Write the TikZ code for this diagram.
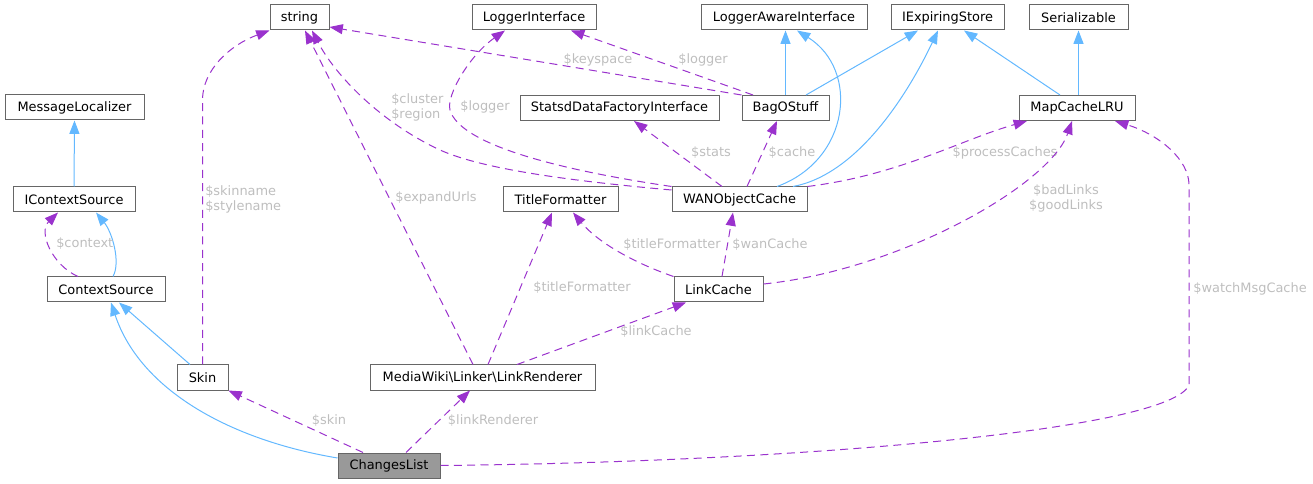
\documentclass[tikz,border=0pt]{standalone}
\usepackage{fontspec}
\setmainfont{DejaVu Sans}
\usetikzlibrary{arrows.meta,positioning}
\definecolor{edgepurple}{HTML}{9A32CD}
\definecolor{edgeblue}{HTML}{63B8FF}
\definecolor{boxgray}{HTML}{666666}
\definecolor{fillgray}{HTML}{999999}
\definecolor{labelgray}{HTML}{BEBEBE}

\begin{document}
\begin{tikzpicture}[
      x=0.75pt, y=-0.75pt,
      font=\fontsize{9.7}{11.25}\selectfont,
      cls/.style={
         rectangle,
         draw=boxgray,
         line width=0.75pt,
         fill=white,
         minimum height=18.75pt,
         inner xsep=2pt, inner ysep=0pt
      },
      current/.style={cls, fill=fillgray},
      inherit/.style={-{Triangle[length=10pt,width=7.5pt]}, draw=edgeblue, line width=0.75pt},
      uses/.style={-{Triangle[length=10pt,width=7.5pt]}, draw=edgepurple, line width=0.75pt,
         dash pattern=on 6pt off 4pt},
      lbl/.style={text=labelgray, inner sep=0pt, align=center}
    ]
    \useasboundingbox (0,0) rectangle (1313,484);

    % classes
    \node[cls, minimum width=44.25pt]  (strg)     at (299.5,17.5) {string};
    \node[cls, minimum width=93pt]     (loggeri)  at (534,17.5)   {LoggerInterface};
    \node[cls, minimum width=124.5pt]  (awarei)   at (784,17.5)   {LoggerAwareInterface};
    \node[cls, minimum width=84.75pt]  (expiring) at (947.5,17.5) {IExpiringStore};
    \node[cls, minimum width=74.25pt]  (serial)   at (1078.5,17.5){Serializable};
    \node[cls, minimum width=104.25pt] (msgloc)   at (74.5,107.5) {MessageLocalizer};
    \node[cls, minimum width=149.25pt] (statsd)   at (619.5,108)  {StatsdDataFactoryInterface};
    \node[cls, minimum width=65.25pt]  (bag)      at (785.5,108)  {BagOStuff};
    \node[cls, minimum width=87pt]     (mapcache) at (1077,108)   {MapCacheLRU};
    \node[cls, minimum width=91.5pt]   (icontext) at (74,199.5)   {IContextSource};
    \node[cls, minimum width=86.25pt]  (titlefmt) at (560.5,199.5){TitleFormatter};
    \node[cls, minimum width=101.25pt] (wan)      at (739.5,199.5){WANObjectCache};
    \node[cls, minimum width=88.5pt]   (context)  at (106,289.5)  {ContextSource};
    \node[cls, minimum width=66.75pt]  (linkcache) at (718.5,289.5){LinkCache};
    \node[cls, minimum width=38.25pt]  (skin)     at (202.5,377.5){Skin};
    \node[cls, minimum width=168.75pt] (linkrend) at (482.5,377.5){MediaWiki\textbackslash Linker\textbackslash LinkRenderer};
    \node[current, minimum width=76.5pt] (changes) at (389,465.5) {ChangesList};

    % inheritance
    \draw[inherit] (icontext.north) -- (msgloc.south);
    \draw[inherit] (context.north -| 113,0) .. controls (121,262) and (112,232) .. (icontext.south -| 96,0);
    \draw[inherit] (skin.north -| 190,0) -- (context.south -| 119,0);
    \draw[inherit] (changes.west |- 0,458) .. controls (230,440) and (140,390) .. (context.south -| 111,0);
    \draw[inherit] (bag.north) -- (bag.north |- awarei.south);
    \draw[inherit] (bag.north -| 806,0) -- (expiring.south -| 918,0);
    \draw[inherit] (wan.north -| 777,0) .. controls (850,160) and (860,70) .. (awarei.south -| 797,0);
    \draw[inherit] (wan.north -| 793,0) .. controls (855,175) and (905,100) .. (expiring.south -| 938,0);
    \draw[inherit] (mapcache.north -| 1060,0) -- (expiring.south -| 964,0);
    \draw[inherit] (serial.south |- mapcache.north) -- (serial.south);

    % members
    \draw[uses] (context.north -| 78,0) .. controls (52,265) and (38,232) .. (icontext.south -| 58,0);
    \node[lbl, anchor=west] (l-context) at (56,244) {\$context};

    \draw[uses] (skin.north) -- (202.5,100) .. controls (202.5,70) and (230,45) .. (strg.south west);
    \node[lbl, anchor=west, align=left] (l-skinname) at (205,199) {\$skinname\\\$stylename};

    \draw[uses] (linkrend.north -| 473,0) -- (strg.south -| 305,0);
    \node[lbl] (l-expand) at (436,198) {\$expandUrls};

    \draw[uses] (wan.west |- 0,190) .. controls (560,180) and (480,168) .. (440,150)
       .. controls (380,122) and (335,75) .. (strg.south -| 312,0);
    \node[lbl, anchor=west, align=left] (l-cluster) at (391,107.5) {\$cluster\\\$region};

    \draw[uses] (wan.north west) .. controls (560,170) and (460,145) .. (450,110)
       .. controls (446,95) and (470,55) .. (loggeri.south -| 505,0);
    \node[lbl] (l-wanlogger) at (485,107) {\$logger};

    \draw[uses] (bag.north west) -- (strg.east |- 0,27);
    \node[lbl] (l-keyspace) at (598,60) {\$keyspace};

    \draw[uses] (bag.north -| 753,0) -- (loggeri.south -| 571,0);
    \node[lbl] (l-baglogger) at (703,60) {\$logger};

    \draw[uses] (wan.north -| 722,0) -- (statsd.south -| 634,0);
    \node[lbl] (l-stats) at (711,153) {\$stats};

    \draw[uses] (wan.north -| 747,0) -- (bag.south -| 777,0);
    \node[lbl] (l-cache) at (792,153) {\$cache};

    \draw[uses] (wan.north east) .. controls (900,175) and (960,140) .. (mapcache.south -| 1027,0);
    \node[lbl] (l-process) at (1005,153) {\$processCaches};

    \draw[uses] (linkcache.north west) .. controls (640,265) and (600,245) .. (titlefmt.south -| 573,0);
    \node[lbl] (l-lctitle) at (672,245) {\$titleFormatter};

    \draw[uses] (linkcache.north -| 722,0) -- (wan.south -| 733,0);
    \node[lbl] (l-wancache) at (770,245) {\$wanCache};

    \draw[uses] (linkcache.east |- 0,284) .. controls (900,270) and (1050,185) .. (mapcache.south -| 1072,0);
    \node[lbl] (l-links) at (1066,198.5) {\$badLinks\\\$goodLinks};

    \draw[uses] (linkrend.north -| 488,0) -- (titlefmt.south -| 552,0);
    \node[lbl] (l-lrtitle) at (582,288) {\$titleFormatter};

    \draw[uses] (linkrend.north -| 517,0) -- (linkcache.south -| 686,0);
    \node[lbl] (l-linkcache) at (656,332) {\$linkCache};

    \draw[uses] (changes.north -| 363,0) -- (skin.south east);
    \node[lbl] (l-skin) at (329,421) {\$skin};

    \draw[uses] (changes.north -| 406,0) -- (linkrend.south -| 470,0);
    \node[lbl] (l-linkrend) at (493,421) {\$linkRenderer};

    \draw[uses] (changes.east) .. controls (800,462) and (1170,430) .. (1189,385) -- (1189,185)
       .. controls (1189,160) and (1160,135) .. (mapcache.south -| 1115,0);
    \node[lbl, anchor=west] (l-watch) at (1193,289) {\$watchMsgCache};
\end{tikzpicture}
\end{document}
